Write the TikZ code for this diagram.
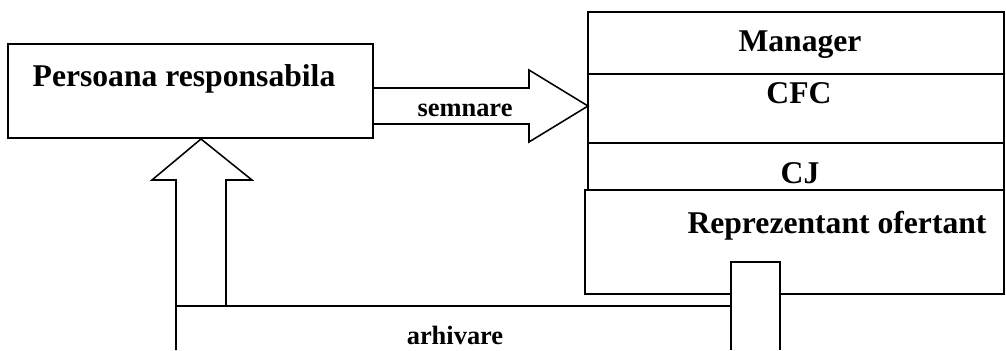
\documentclass[tikz,border=0pt]{standalone}
\usepackage{fontspec}
\setmainfont{Liberation Serif}
\usepackage{tikz}
\usetikzlibrary{positioning}

\tikzset{
  boxline/.style={black, line width=1.1pt, line join=miter},
  biglbl/.style={inner sep=0pt, font=\bfseries\fontsize{22.5}{26}\selectfont},
  smalllbl/.style={inner sep=0pt, font=\bfseries\fontsize{18.8}{22}\selectfont}
}

\begin{document}
\begin{tikzpicture}[x=0.025cm, y=0.025cm]
\useasboundingbox (0,0) rectangle (1006,350);

% persoana responsabila
\draw[boxline] (8,212) rectangle (373,306);
\node[biglbl] (persoana) at (184,271) {Persoana responsabila};

% stack on the right
\draw[boxline] (588,160) rectangle (1004,338);
\draw[boxline] (588,276)--++(416,0);
\draw[boxline] (588,207)--++(416,0);

\node[biglbl] (manager) at (800,305) {Manager};
\node[biglbl] (cfc) at (799,257) {CFC};
\node[biglbl] (cj) at (800,177) {CJ};

% reprezentant ofertant, bottom line broken by the exit
\draw[boxline] (731,56)--(585,56)--(585,160)--(1004,160)--(1004,56)--(780,56);
\node[biglbl] (ofertant) at (837,124) {Reprezentant ofertant};

% semnare arrow
\draw[boxline] (373,262)--++(156,0)--++(0,18)--(588,244)--(529,208)--++(0,18)--(373,226);
\node[smalllbl] (semnare) at (465,240) {semnare};

% arhivare channel
\draw[boxline] (731,0)--++(0,88)--++(49,0)--++(0,-88);
\draw[boxline] (176,0)--++(0,170)--++(-24,0)--(201,211)--(252,170)--++(-26,0)--++(0,-126);
\draw[boxline] (176,44)--(731,44);
\node[smalllbl] (arhivare) at (455,15) {arhivare};

\end{tikzpicture}
\end{document}
